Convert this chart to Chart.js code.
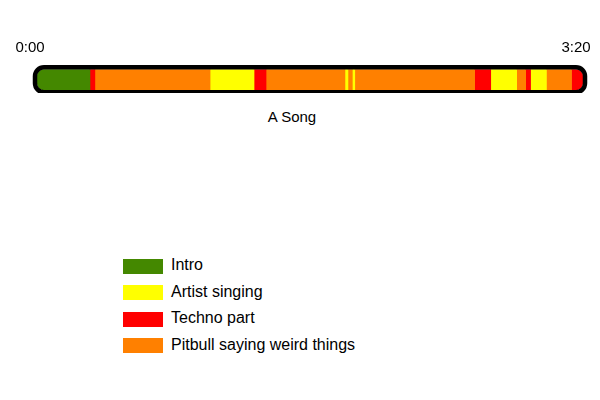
<!DOCTYPE html>
<html>
<head>
<meta charset="utf-8">
<script src="https://cdn.jsdelivr.net/npm/chart.js@4.4.1/dist/chart.umd.min.js"></script>
<style>
    body { margin: 0; background: #fff; font-family: "Liberation Sans", Arial, sans-serif; }
    #wrap { position: relative; width: 600px; height: 400px; }
    #chartBox { position: absolute; left: 0; top: 0; width: 600px; height: 93px; }
    #songTitle { position: absolute; left: 192px; width: 200px; top: 108px; text-align: center; font-size: 15px; color: #000; }
    #legend { position: absolute; left: 123px; top: 253px; }
    .item { display: flex; align-items: center; height: 26.5px; }
    .item .swatch { width: 40px; height: 15px; margin-right: 8px; }
    .item span { font-size: 16px; color: #000; position: relative; top: -1px; }
</style>
</head>
<body>
<div id="wrap">
    <div id="chartBox"><canvas id="songChart"></canvas></div>
    <div id="songTitle"></div>
    <div id="legend"></div>
</div>
<script>
// one song, cut into parts (seconds)
const categories = ["A Song"];
const partNames = ["Intro", "Artist singing", "Techno part", "Pitbull saying weird things"];
const partColors = ["#448800", "#FFFF00", "#FF0000", "#FF8000"];
const segmentParts = [0, 2, 3, 1, 2, 3, 1, 3, 1, 3, 2, 1, 3, 2, 1, 3, 2];
const segmentSeconds = [19.4, 1.8, 42.2, 16.1, 4.4, 28.9, 1.1, 1.6, 0.9, 43.9, 5.9, 9.5, 3.3, 1.8, 5.8, 9.2, 4.2];
const tickSeconds = [0, 200];

const songLength = tickSeconds[tickSeconds.length - 1];

function formatTime(sec) {
    const m = Math.floor(sec / 60);
    const s = Math.round(sec % 60);
    return `${m}:${String(s).padStart(2, "0")}`;
}

// rounded black outline round the whole bar, segments clipped inside it
const outlinePlugin = {
    id: "songOutline",
    barBox(chart) {
        const bar = chart.getDatasetMeta(0).data[0];
        const xs = chart.scales.x;
        const x0 = xs.getPixelForValue(0);
        const x1 = xs.getPixelForValue(songLength);
        return { x: x0, y: bar.y - bar.height / 2, w: x1 - x0, h: bar.height };
    },
    beforeDatasetsDraw(chart) {
        const b = this.barBox(chart);
        const ctx = chart.ctx;
        ctx.save();
        ctx.beginPath();
        ctx.roundRect(b.x, b.y, b.w, b.h, 7);
        ctx.clip();
    },
    afterDatasetsDraw(chart) {
        const ctx = chart.ctx;
        ctx.restore();
        const b = this.barBox(chart);
        ctx.save();
        ctx.lineWidth = 4.5;
        ctx.strokeStyle = "#000";
        ctx.beginPath();
        ctx.roundRect(b.x - 2, b.y - 2, b.w + 4, b.h + 4, 9);
        ctx.stroke();
        ctx.restore();
    }
};

const datasets = segmentSeconds.map((sec, i) => ({
    label: partNames[segmentParts[i]],
    data: [sec],
    backgroundColor: partColors[segmentParts[i]],
    borderWidth: 0,
    barThickness: 21,
    stack: "song"
}));

new Chart(document.getElementById("songChart"), {
    type: "bar",
    data: { labels: categories, datasets },
    options: {
        indexAxis: "y",
        responsive: true,
        maintainAspectRatio: false,
        animation: false,
        layout: { padding: { left: 37, right: 17, top: 40, bottom: 0 } },
        plugins: {
            legend: { display: false },
            tooltip: { enabled: false }
        },
        scales: {
            x: {
                position: "top",
                stacked: true,
                min: 0,
                max: songLength,
                grid: { display: false },
                border: { display: false },
                afterBuildTicks: (axis) => { axis.ticks = tickSeconds.map(v => ({ value: v })); },
                ticks: {
                    autoSkip: false,
                    maxRotation: 0,
                    padding: 2,
                    labelOffset: -7,
                    color: "#000",
                    font: { family: "'Liberation Sans', Arial, sans-serif", size: 15 },
                    callback: (v) => formatTime(v)
                }
            },
            y: {
                stacked: true,
                display: false
            }
        }
    },
    plugins: [outlinePlugin]
});

document.getElementById("songTitle").textContent = categories[0];

const legendBox = document.getElementById("legend");
partNames.forEach((name, i) => {
    const row = document.createElement("div");
    row.className = "item";
    row.innerHTML = `<div class="swatch" style="background:${partColors[i]}"></div><span>${name}</span>`;
    legendBox.appendChild(row);
});
</script>
</body>
</html>
